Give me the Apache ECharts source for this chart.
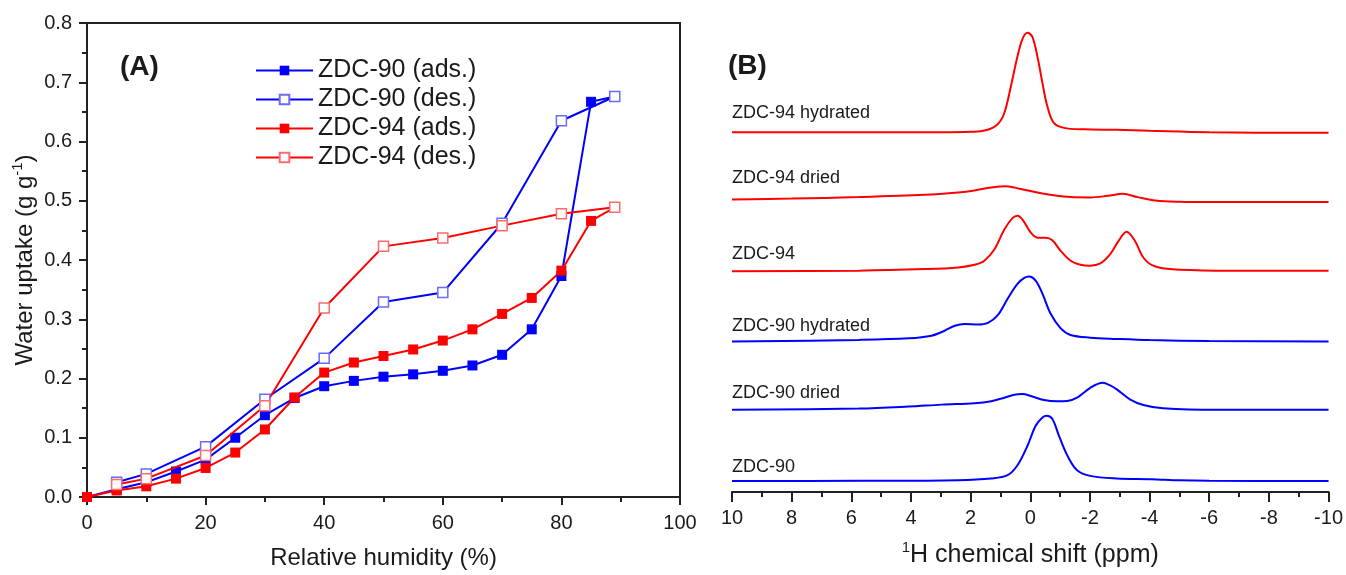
<!DOCTYPE html>
<html>
<head>
<meta charset="utf-8">
<title>Water uptake and 1H NMR</title>
<script src="https://cdn.jsdelivr.net/npm/echarts@6/dist/echarts.min.js"></script>
<style>
  html, body { margin: 0; padding: 0; background: #fff; }
  #chart { width: 1346px; height: 575px; }
</style>
</head>
<body>
<div id="chart"></div>
<script>
// (A) water sorption isotherms
var rhAds = [0, 5, 10, 15, 20, 25, 30, 35, 40, 45, 50, 55, 60, 65, 70, 75, 80, 85, 89];
var zdc90Ads = [0, 0.013, 0.025, 0.043, 0.063, 0.100, 0.138, 0.167, 0.187, 0.196, 0.203, 0.207, 0.213, 0.222, 0.240, 0.283, 0.373, 0.667, 0.676];
var zdc94Ads = [0, 0.011, 0.018, 0.031, 0.049, 0.075, 0.114, 0.168, 0.210, 0.227, 0.238, 0.249, 0.264, 0.283, 0.309, 0.336, 0.382, 0.466, 0.489];
var rhDes = [5, 10, 20, 30, 40, 50, 60, 70, 80, 89];
var zdc90Des = [0.025, 0.039, 0.085, 0.165, 0.234, 0.329, 0.345, 0.462, 0.635, 0.676];
var zdc94Des = [0.021, 0.031, 0.070, 0.154, 0.319, 0.423, 0.437, 0.458, 0.478, 0.489];

// (B) 1H NMR spectra: [ppm, intensity a.u.]
var nmrZDC94Hyd = [[10,0.5],[6,0.5],[3,0.5],[2,1],[1.5,2.5],[1.1,8.5],[0.87,20],[0.65,47],[0.43,77],[0.26,95],[0.09,101],[-0.07,97],[-0.24,77],[-0.41,50],[-0.57,27],[-0.79,10],[-1.13,5],[-1.8,3.5],[-2.9,3],[-4,2],[-6,0.5],[-10,0]];
var nmrZDC94Dry = [[10,2.5],[8,3.5],[5.75,5],[3.53,7.3],[2.42,9.7],[1.87,11.7],[1.31,14.7],[0.81,16],[0.32,13.3],[-0.24,9.7],[-0.68,7.3],[-1.35,5],[-2.01,4.7],[-2.6,6.3],[-3.1,8.3],[-3.6,5],[-4.2,1.5],[-5,0.3],[-6.2,0],[-10,0]];
var nmrZDC94 = [[10,0],[5.75,0.7],[3.53,2.3],[2.42,4],[1.87,6.7],[1.54,10.7],[1.2,22.3],[0.87,42.3],[0.59,54],[0.43,56.3],[0.26,52.3],[-0.02,39],[-0.24,34],[-0.52,34],[-0.74,31.3],[-1.02,20.7],[-1.35,10.7],[-1.68,6.7],[-2.01,5.7],[-2.35,8],[-2.68,17.3],[-2.96,30.7],[-3.23,40],[-3.51,30.7],[-3.79,14],[-4.12,5.7],[-4.67,2.3],[-6.22,0.7],[-10,0.5]];
var nmrZDC90Hyd = [[10,0],[5.75,1.7],[4.08,3.3],[3.31,6],[2.87,11],[2.53,16],[2.2,17.7],[1.76,17.3],[1.42,19],[1.09,26.7],[0.76,43.3],[0.43,58.3],[0.2,64.3],[0.04,65.7],[-0.18,61.7],[-0.41,48.3],[-0.68,28.3],[-1.02,13.3],[-1.35,6.7],[-2.01,4],[-2.9,2.7],[-4,1.5],[-6,0.5],[-10,0]];
var nmrZDC90Dry = [[10,0],[5.75,1.3],[4.08,3.3],[2.97,5.3],[1.87,6.7],[1.31,8.7],[0.87,12.3],[0.54,15.3],[0.26,16],[-0.02,14],[-0.46,10],[-0.9,8.7],[-1.24,9],[-1.57,12.3],[-2.01,22.3],[-2.43,27.3],[-2.68,24.7],[-2.9,20.7],[-3.34,10.7],[-3.79,5],[-4.45,1.7],[-6.22,0],[-10,0]];
var nmrZDC90 = [[10,0],[5.75,0.3],[2.42,1],[1.31,2.7],[0.76,6],[0.43,16],[0.09,36],[-0.18,56],[-0.41,64.3],[-0.55,66],[-0.74,62.7],[-0.96,46],[-1.24,26],[-1.57,11],[-2.01,5.3],[-2.9,2.7],[-4.06,2],[-5,0.8],[-6,0.3],[-10,0]];

var nmrNames = ['ZDC-94 hydrated', 'ZDC-94 dried', 'ZDC-94', 'ZDC-90 hydrated', 'ZDC-90 dried', 'ZDC-90'];
var nmrSpectra = [nmrZDC94Hyd, nmrZDC94Dry, nmrZDC94, nmrZDC90Hyd, nmrZDC90Dry, nmrZDC90];
var nmrOffsets = [363, 293, 223, 152, 83, 11];

var BLUE = '#0000ff';
var RED = '#ff0000';
var FONT = 'Liberation Sans, Arial, sans-serif';
var INK = '#1a1a1a';

function pairs(xs, ys) {
    return xs.map(function(x, i) { return [x, ys[i]]; });
}

var chart = echarts.init(document.getElementById('chart'), null, { renderer: 'canvas' });

function isoSeries(name, xs, ys, color, hollow) {
    return {
        name: name,
        type: 'line',
        xAxisIndex: 0,
        yAxisIndex: 0,
        data: pairs(xs, ys),
        symbol: 'rect',
        symbolSize: 10,
        lineStyle: { color: color, width: 2 },
        itemStyle: hollow
            ? { color: '#fff', borderColor: color === BLUE ? '#6a6aff' : '#ff6a6a', borderWidth: 1.5 }
            : { color: color, borderWidth: 0 },
        emphasis: { disabled: true },
        z: hollow ? 3 : 2
    };
}

var series = [
    isoSeries('ZDC-90 (ads.)', rhAds, zdc90Ads, BLUE, false),
    isoSeries('ZDC-90 (des.)', rhDes, zdc90Des, BLUE, true),
    isoSeries('ZDC-94 (ads.)', rhAds, zdc94Ads, RED, false),
    isoSeries('ZDC-94 (des.)', rhDes, zdc94Des, RED, true)
];

nmrSpectra.forEach(function(spec, i) {
    series.push({
        name: nmrNames[i],
        type: 'line',
        xAxisIndex: 1,
        yAxisIndex: 1,
        data: spec.map(function(p) { return [p[0], p[1] + nmrOffsets[i]]; }),
        showSymbol: false,
        smooth: 0.35,
        lineStyle: { color: i < 3 ? RED : BLUE, width: 2 },
        emphasis: { disabled: true }
    });
});

// sample names next to each spectrum
var labelY = [113, 178, 254, 326, 393, 467];
var graphics = nmrNames.map(function(n, i) {
    return {
        type: 'text', x: 732, y: labelY[i],
        style: { text: n, font: '18px ' + FONT, fill: INK, align: 'left', verticalAlign: 'middle' }
    };
});
graphics.push({ type: 'text', x: 120, y: 67, style: { text: '(A)', font: 'bold 28px ' + FONT, fill: INK, verticalAlign: 'middle' } });
graphics.push({ type: 'text', x: 728, y: 66, style: { text: '(B)', font: 'bold 28px ' + FONT, fill: INK, verticalAlign: 'middle' } });

var axisLineA = { show: true, onZero: false, lineStyle: { color: '#222', width: 2 } };

var option = {
    animation: false,
    backgroundColor: '#fff',
    grid: [
        { left: 87, right: 666, top: 23, bottom: 75, show: true, borderColor: '#222', borderWidth: 2, backgroundColor: 'transparent' },
        { left: 732, right: 12.5, top: 20, bottom: 78 }
    ],
    legend: {
        data: ['ZDC-90 (ads.)', 'ZDC-90 (des.)', 'ZDC-94 (ads.)', 'ZDC-94 (des.)'],
        orient: 'vertical',
        left: 250,
        top: 53,
        itemWidth: 57,
        itemHeight: 12,
        itemGap: 4,
        textStyle: { fontSize: 25, fontFamily: FONT, color: INK, lineHeight: 25 }
    },
    xAxis: [
        {
            gridIndex: 0, type: 'value', min: 0, max: 100, interval: 20,
            name: 'Relative humidity (%)', nameLocation: 'middle', nameGap: 49,
            nameTextStyle: { fontSize: 24, fontFamily: FONT, color: INK },
            axisLine: axisLineA,
            axisTick: { show: true, inside: false, length: 8, lineStyle: { color: '#222', width: 2 } },
            minorTick: { show: true, splitNumber: 2, length: 5, lineStyle: { color: '#222', width: 2 } },
            axisLabel: { fontSize: 20, fontFamily: FONT, color: INK, margin: 16 },
            splitLine: { show: false }
        },
        {
            gridIndex: 1, type: 'value', min: -10, max: 10, interval: 2, inverse: true,
            name: '{sup|1}H chemical shift (ppm)', nameLocation: 'middle', nameGap: 48,
            nameTextStyle: {
                fontSize: 25, fontFamily: FONT, color: INK, lineHeight: 30,
                rich: { sup: { fontSize: 15, fontFamily: FONT, color: INK, verticalAlign: 'top', lineHeight: 30 } }
            },
            axisLine: { show: true, onZero: false, lineStyle: { color: '#222', width: 2 } },
            axisTick: { show: true, inside: false, length: 10, lineStyle: { color: '#222', width: 2 } },
            minorTick: { show: true, splitNumber: 2, length: 5, lineStyle: { color: '#222', width: 2 } },
            axisLabel: { fontSize: 20, fontFamily: FONT, color: INK, margin: 16 },
            splitLine: { show: false }
        }
    ],
    yAxis: [
        {
            gridIndex: 0, type: 'value', min: 0, max: 0.8, interval: 0.1,
            name: 'Water uptake (g g{sup|-1})', nameLocation: 'middle', nameGap: 43, nameRotate: 90,
            nameTextStyle: {
                fontSize: 24, fontFamily: FONT, color: INK, lineHeight: 30,
                rich: { sup: { fontSize: 15, fontFamily: FONT, color: INK, verticalAlign: 'top', lineHeight: 30 } }
            },
            axisLine: axisLineA,
            axisTick: { show: true, inside: false, length: 8, lineStyle: { color: '#222', width: 2 } },
            minorTick: { show: true, splitNumber: 2, length: 5, lineStyle: { color: '#222', width: 2 } },
            axisLabel: {
                fontSize: 20, fontFamily: FONT, color: INK, margin: 15,
                formatter: function(v) { return v.toFixed(1); }
            },
            splitLine: { show: false }
        },
        {
            gridIndex: 1, type: 'value', min: 0, max: 477, show: false
        }
    ],
    graphic: graphics,
    series: series
};

chart.setOption(option);
</script>
</body>
</html>
